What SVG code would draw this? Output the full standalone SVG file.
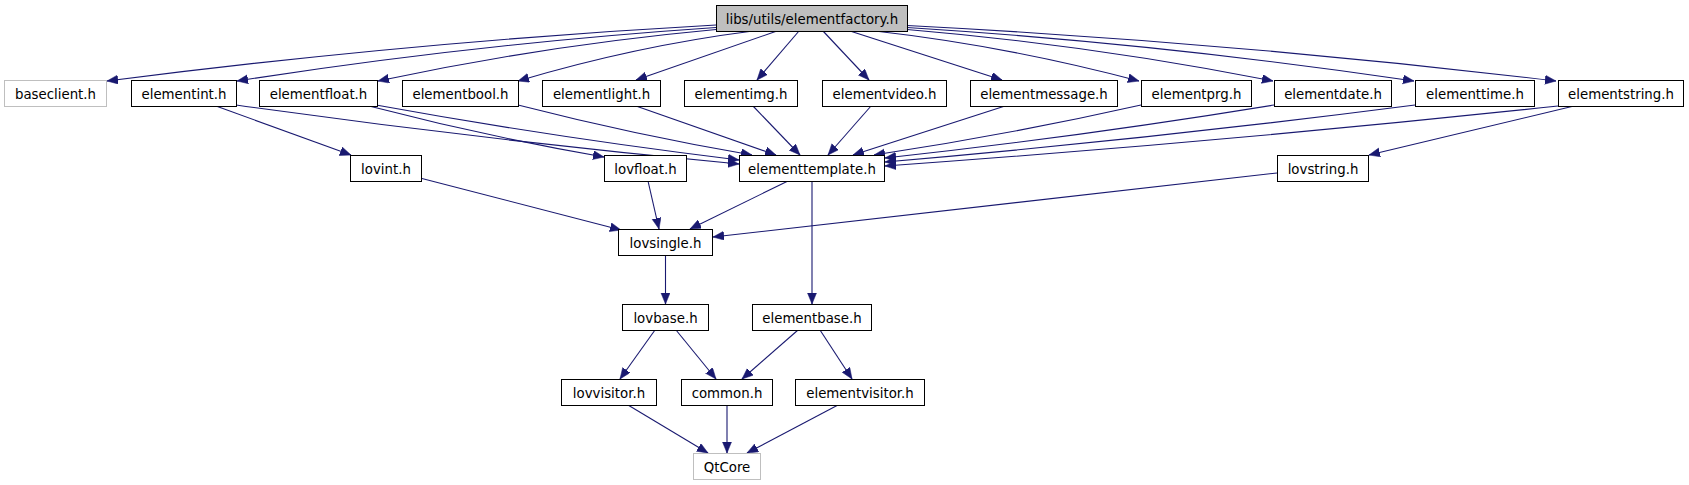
<svg xmlns="http://www.w3.org/2000/svg" width="1689" height="485" viewBox="0 0 1689 485">
<style>
.n rect{fill:#fff;stroke:#000;stroke-width:1}
.n.ext rect{stroke:#bfbfbf}
.n.root rect{fill:#bfbfbf}
.n text{font-family:"DejaVu Sans","Liberation Sans",sans-serif;font-size:13.33px;fill:#000;text-anchor:middle}
.e path{fill:none;stroke:#191970;stroke-width:1.1;marker-end:url(#ah)}
</style>
<defs>
<marker id="ah" markerUnits="userSpaceOnUse" markerWidth="13" markerHeight="10" refX="11" refY="4.5" orient="auto">
<path d="M0,0 L11,4.5 L0,9 z" fill="#191970" stroke="#191970" stroke-width="0.5"/>
</marker>
</defs>
<rect width="1689" height="485" fill="#fff"/>
<g id="edges" class="e">
<path d="M716,25 Q411.5,41.8 107,81"/>
<path d="M716,27.5 Q476.5,43.6 237,81"/>
<path d="M716,29.5 Q547,45 378,81"/>
<path d="M753,31 Q635.5,46 518,81"/>
<path d="M777,31 L636,80"/>
<path d="M799,31 L757,80"/>
<path d="M823,31 L869,80"/>
<path d="M850,31 L1002,80"/>
<path d="M875,31 Q1007,46 1139,81"/>
<path d="M907,29.5 Q1090,45 1273,81"/>
<path d="M907,27.5 Q1160.5,43.6 1414,81"/>
<path d="M907,25.5 Q1231.5,42.2 1556,81"/>
<path d="M236,105 Q487.5,140.4 739,164"/>
<path d="M376,105 Q557.5,138 739,160"/>
<path d="M518,105 Q635,135 752,155"/>
<path d="M636,106 L776,155"/>
<path d="M753,106 L800,155"/>
<path d="M871,106 L828,155"/>
<path d="M1005,106 L853,155"/>
<path d="M1141,105 Q1007.5,135 874,155"/>
<path d="M1274,105 Q1079.5,136.8 885,158"/>
<path d="M1415,105 Q1150,139.2 885,162"/>
<path d="M1558,106 Q1221.5,142 885,166"/>
<path d="M216,106 L351,155"/>
<path d="M369,106 Q486.5,136.6 604,157"/>
<path d="M1574,106 L1369,155"/>
<path d="M420,178 L621,230"/>
<path d="M648,181 L659,229"/>
<path d="M788,181 L690,229"/>
<path d="M1277,173 L713,237"/>
<path d="M812,181 L812,304"/>
<path d="M665.5,255 L665.5,304"/>
<path d="M655,330 L620,379"/>
<path d="M676,330 L716,379"/>
<path d="M798,330 L742,379"/>
<path d="M820,330 L852,379"/>
<path d="M628,405 L708,453"/>
<path d="M727,405 L727,453"/>
<path d="M838,405 L747,453"/>
</g>
<g id="elementfactory" class="n root"><rect x="716.5" y="5.5" width="191" height="26"/><text x="812" y="23.5">libs/utils/elementfactory.h</text></g>
<g id="baseclient" class="n ext"><rect x="4.5" y="80.5" width="102" height="26"/><text x="55.5" y="98.5">baseclient.h</text></g>
<g id="elementint" class="n"><rect x="131.5" y="80.5" width="105" height="26"/><text x="184" y="98.5">elementint.h</text></g>
<g id="elementfloat" class="n"><rect x="259.5" y="80.5" width="118" height="26"/><text x="318.5" y="98.5">elementfloat.h</text></g>
<g id="elementbool" class="n"><rect x="402.5" y="80.5" width="116" height="26"/><text x="460.5" y="98.5">elementbool.h</text></g>
<g id="elementlight" class="n"><rect x="542.5" y="80.5" width="118" height="26"/><text x="601.5" y="98.5">elementlight.h</text></g>
<g id="elementimg" class="n"><rect x="684.5" y="80.5" width="113" height="26"/><text x="741" y="98.5">elementimg.h</text></g>
<g id="elementvideo" class="n"><rect x="822.5" y="80.5" width="124" height="26"/><text x="884.5" y="98.5">elementvideo.h</text></g>
<g id="elementmessage" class="n"><rect x="970.5" y="80.5" width="147" height="26"/><text x="1044" y="98.5">elementmessage.h</text></g>
<g id="elementprg" class="n"><rect x="1141.5" y="80.5" width="110" height="26"/><text x="1196.5" y="98.5">elementprg.h</text></g>
<g id="elementdate" class="n"><rect x="1274.5" y="80.5" width="117" height="26"/><text x="1333" y="98.5">elementdate.h</text></g>
<g id="elementtime" class="n"><rect x="1415.5" y="80.5" width="119" height="26"/><text x="1475" y="98.5">elementtime.h</text></g>
<g id="elementstring" class="n"><rect x="1558.5" y="80.5" width="125" height="26"/><text x="1621" y="98.5">elementstring.h</text></g>
<g id="lovint" class="n"><rect x="350.5" y="155.5" width="71" height="26"/><text x="386" y="173.5">lovint.h</text></g>
<g id="lovfloat" class="n"><rect x="604.5" y="155.5" width="82" height="26"/><text x="645.5" y="173.5">lovfloat.h</text></g>
<g id="elementtemplate" class="n"><rect x="739.5" y="155.5" width="145" height="26"/><text x="812" y="173.5">elementtemplate.h</text></g>
<g id="lovstring" class="n"><rect x="1277.5" y="155.5" width="91" height="26"/><text x="1323" y="173.5">lovstring.h</text></g>
<g id="lovsingle" class="n"><rect x="618.5" y="229.5" width="94" height="26"/><text x="665.5" y="247.5">lovsingle.h</text></g>
<g id="lovbase" class="n"><rect x="622.5" y="304.5" width="86" height="26"/><text x="665.5" y="322.5">lovbase.h</text></g>
<g id="elementbase" class="n"><rect x="752.5" y="304.5" width="119" height="26"/><text x="812" y="322.5">elementbase.h</text></g>
<g id="lovvisitor" class="n"><rect x="561.5" y="379.5" width="95" height="26"/><text x="609" y="397.5">lovvisitor.h</text></g>
<g id="common" class="n"><rect x="681.5" y="379.5" width="91" height="26"/><text x="727" y="397.5">common.h</text></g>
<g id="elementvisitor" class="n"><rect x="795.5" y="379.5" width="129" height="26"/><text x="860" y="397.5">elementvisitor.h</text></g>
<g id="QtCore" class="n ext"><rect x="693.5" y="453.5" width="67" height="26"/><text x="727" y="471.5">QtCore</text></g>
</svg>
